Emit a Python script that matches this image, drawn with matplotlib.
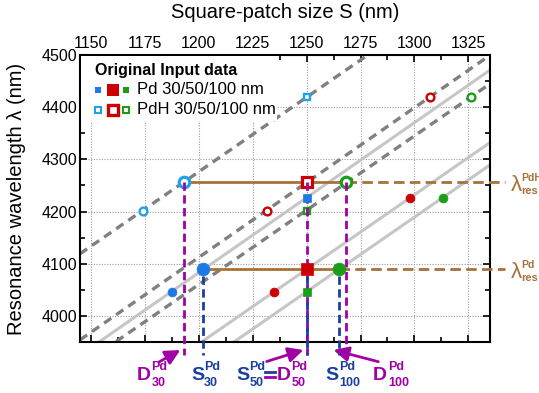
import numpy as np
import matplotlib
matplotlib.use("Agg")
import matplotlib.pyplot as plt
from matplotlib.lines import Line2D
from matplotlib.patches import Rectangle
from matplotlib.ticker import MultipleLocator

plt.rcParams["font.family"] = ["Liberation Sans", "DejaVu Sans"]

# ---- data: square-patch size S (nm) vs. resonance wavelength (nm) ----
# Pd (metal) series for 30 / 50 / 100 nm thick films
pd30_S = [1187.5, 1202.0, 1250.0]
pd30_lam = [4046.5, 4089.0, 4226.5]
pd50_S = [1235.0, 1250.0, 1298.0]
pd50_lam = [4046.5, 4089.0, 4226.5]
pd100_S = [1250.0, 1265.0, 1313.0]
pd100_lam = [4046.5, 4089.0, 4226.5]

# PdH (hydride) series for 30 / 50 / 100 nm
pdh30_S = [1174.0, 1193.0, 1250.0]
pdh30_lam = [4202.0, 4256.0, 4419.0]
pdh50_S = [1231.5, 1250.0, 1307.0]
pdh50_lam = [4202.0, 4256.0, 4419.0]
pdh100_S = [1250.0, 1268.5, 1326.0]
pdh100_lam = [4202.0, 4256.0, 4419.0]

S_input = 1250.0          # original input patch size
lam_res_pd = 4089.0       # target resonance, Pd
lam_res_pdh = 4256.0      # target resonance, PdH

x_ticks = [1150, 1175, 1200, 1225, 1250, 1275, 1300, 1325]
y_ticks = [4000, 4100, 4200, 4300, 4400, 4500]

# ---- colours ----
BLUE = "#1c7ae6"
SKY = "#1ea2ec"
RED = "#cc0000"
GREEN = "#1a9e1a"
PURPLE = "#a000a4"
DBLUE = "#1a3f9e"
BROWN = "#a8713a"
LGRAY = "#c6c6c6"
DGRAY = "#808080"

W, H = 539, 393
fig = plt.figure(figsize=(W / 100, H / 100), dpi=100)
ax = fig.add_axes([80 / W, 1 - 342 / H, 410 / W, 287 / H])
XLIM = (1145, 1335)
YLIM = (3950, 4500)
ax.set_xlim(*XLIM)
ax.set_ylim(*YLIM)

# ---- fitted S-lambda lines ----
xs = np.array(XLIM)
for S, lam in [(pd30_S, pd30_lam), (pd50_S, pd50_lam), (pd100_S, pd100_lam)]:
    k, b = np.polyfit(S, lam, 1)
    ax.plot(xs, k * xs + b, color=LGRAY, lw=2.2, zorder=2, solid_capstyle="butt")
for S, lam in [(pdh30_S, pdh30_lam), (pdh50_S, pdh50_lam), (pdh100_S, pdh100_lam)]:
    k, b = np.polyfit(S, lam, 1)
    ax.plot(xs, k * xs + b, color=DGRAY, lw=2.4, dashes=(2.6, 1.8), zorder=2,
            dash_capstyle="butt")

# ---- resonance level lines ----
x_far = 1342
for lam, Sset in [(lam_res_pd, [pd30_S[1], pd50_S[1], pd100_S[1]]),
                  (lam_res_pdh, [pdh30_S[1], pdh50_S[1], pdh100_S[1]])]:
    ax.plot([min(Sset), max(Sset)], [lam, lam], color=BROWN, lw=2.0, zorder=3)
    ax.plot([max(Sset), x_far], [lam, lam], color=BROWN, lw=2.0,
            dashes=(3.8, 1.9), zorder=3, clip_on=False)

# ---- vertical guide lines down to the labels ----
y_low = 3925
vdash = (3.0, 1.6)
for S0 in [pdh30_S[1], pdh50_S[1], pdh100_S[1]]:
    ax.plot([S0, S0], [lam_res_pdh, y_low], color=PURPLE, lw=2.0, dashes=vdash,
            zorder=5, clip_on=False, dash_capstyle="butt")
for S0 in [pd30_S[1], pd50_S[1], pd100_S[1]]:
    ax.plot([S0, S0], [lam_res_pd - 12, y_low], color=DBLUE, lw=2.0,
            dashes=vdash, zorder=5.5, clip_on=False, dash_capstyle="butt")


# ---- markers ----
def draw_series(S, lam, color, filled, z):
    for i, (s, l) in enumerate(zip(S, lam)):
        mk = "s" if s == S_input else "o"
        big = i == 1
        if filled:
            ms = (8.6 if mk == "s" else 9.2) if big else (5.6 if mk == "s" else 6.4)
            ax.plot(s, l, marker=mk, ms=ms, color=color, mec=color, mew=0.5,
                    zorder=z, clip_on=False)
        else:
            ms = 7.6 if big else (5.0 if mk == "s" else 5.6)
            mew = 2.3 if big else 1.7
            ax.plot(s, l, marker=mk, ms=ms, mfc="white", mec=color, mew=mew,
                    zorder=z, clip_on=False)


draw_series(pdh30_S, pdh30_lam, SKY, False, 4)
draw_series(pdh50_S, pdh50_lam, RED, False, 4)
draw_series(pdh100_S, pdh100_lam, GREEN, False, 4)
draw_series(pd30_S, pd30_lam, BLUE, True, 6)
draw_series(pd50_S, pd50_lam, RED, True, 6)
draw_series(pd100_S, pd100_lam, GREEN, True, 6)

# ---- axes styling ----
ax.xaxis.tick_top()
ax.xaxis.set_label_position("top")
ax.set_xticks(x_ticks)
ax.set_yticks(y_ticks)
ax.xaxis.set_minor_locator(MultipleLocator(12.5))
ax.yaxis.set_minor_locator(MultipleLocator(50))
ax.tick_params(which="both", direction="in", top=True, bottom=True, left=True,
               right=True, labeltop=True, labelbottom=False, width=1.2)
ax.tick_params(which="major", length=5, labelsize=11.5, pad=3)
ax.tick_params(which="minor", length=3.5)
ax.tick_params(axis="y", which="major", pad=2)
for sp in ax.spines.values():
    sp.set_linewidth(1.5)
ax.grid(True, which="major", color="#9a9a9a", lw=0.8, linestyle=(0, (1, 1.4)))
ax.set_axisbelow(True)
ax.set_xlabel("Square-patch size S (nm)", fontsize=14.5, labelpad=13)
ax.set_ylabel("Resonance wavelength \u03bb (nm)", fontsize=14.5, labelpad=11)

# ---- legend block ----
def afr(px, py):
    return (px - 80) / 410, (342 - py) / 287


bx0, by0 = afr(81, 121)
bx1, by1 = afr(277, 56)
ax.add_patch(Rectangle((bx0, by0), bx1 - bx0, by1 - by0, transform=ax.transAxes,
                       facecolor="white", edgecolor="none", zorder=7))
ax.text(*afr(95, 71), "Original Input data", transform=ax.transAxes,
        fontsize=11.5, fontweight="bold", ha="left", va="center", zorder=8)
for row_y, filled in [(90, True), (110, False)]:
    for cx, col, sz in [(98, BLUE if filled else SKY, 5.0), (112.5, RED, 8.6),
                        (126.3, GREEN, 5.0)]:
        if filled:
            ax.plot(*afr(cx, row_y), marker="s", ms=sz, color=col, mew=0,
                    transform=ax.transAxes, zorder=8, clip_on=False)
        else:
            big = sz > 6
            ax.plot(*afr(cx, row_y), marker="s", ms=sz - (2 if big else 1.2),
                    mfc="white", mec=col, mew=2.4 if big else 1.5,
                    transform=ax.transAxes, zorder=8, clip_on=False)
ax.text(*afr(137, 90), "Pd 30/50/100 nm", transform=ax.transAxes, fontsize=12,
        ha="left", va="center", zorder=8)
ax.text(*afr(137, 110), "PdH 30/50/100 nm", transform=ax.transAxes, fontsize=12,
        ha="left", va="center", zorder=8)


# ---- labels under the plot ----
def fpx(x, y):
    return x / W, 1 - y / H


def sym_label(x_main, x_scr, main, sup, sub, color, base=380):
    fig.text(*fpx(x_main, base), main, color=color, fontsize=14,
             fontweight="bold", ha="left", va="baseline")
    fig.text(*fpx(x_scr, base - 9.5), sup, color=color, fontsize=9,
             fontweight="bold", ha="left", va="baseline")
    fig.text(*fpx(x_scr, base + 5.5), sub, color=color, fontsize=9,
             fontweight="bold", ha="left", va="baseline")


sym_label(137.0, 151.5, "D", "Pd", "30", PURPLE)
sym_label(191.5, 204.0, "S", "Pd", "30", DBLUE)
sym_label(236.5, 249.5, "S", "Pd", "50", DBLUE)
sym_label(276.5, 291.5, "D", "Pd", "50", PURPLE)
sym_label(325.5, 339.5, "S", "Pd", "100", DBLUE)
sym_label(372.5, 388.0, "D", "Pd", "100", PURPLE)

# equals sign between S50 and D50
fig.add_artist(Line2D([265 / W, 275 / W], [1 - 372 / H, 1 - 372 / H],
                      color=DBLUE, lw=2.0))
fig.add_artist(Line2D([265 / W, 275 / W], [1 - 376.5 / H, 1 - 376.5 / H],
                      color=PURPLE, lw=2.0))

arrow_kw = dict(arrowstyle="-|>,head_length=0.9,head_width=0.45", color=PURPLE,
                lw=2.0, shrinkA=0, shrinkB=0)
for S0, tail, off in [(pdh30_S[1], (159, 362), -1.5),
                      (pdh50_S[1], (266.7, 361.5), -1.5),
                      (pdh100_S[1], (378.3, 361.7), -6.0)]:
    ax.annotate("", xy=(S0 + off, H - 350), xycoords=("data", "figure pixels"),
                xytext=(tail[0], H - tail[1]), textcoords="figure pixels",
                arrowprops=arrow_kw, annotation_clip=False)

# resonance-level labels on the right
for lam, sup in [(lam_res_pdh, "PdH"), (lam_res_pd, "Pd")]:
    y_pix = ax.transData.transform((0, lam))[1]
    yt = H - y_pix
    fig.text(*fpx(511, yt + 9), "\u03bb", color=BROWN, fontsize=16,
             ha="left", va="baseline")
    fig.text(*fpx(521.5, yt - 1), sup, color=BROWN, fontsize=7.5,
             fontweight="bold", ha="left", va="baseline")
    fig.text(*fpx(521.5, yt + 12), "res", color=BROWN, fontsize=8,
             fontweight="bold", ha="left", va="baseline")

fig.savefig("out.png", dpi=100)
